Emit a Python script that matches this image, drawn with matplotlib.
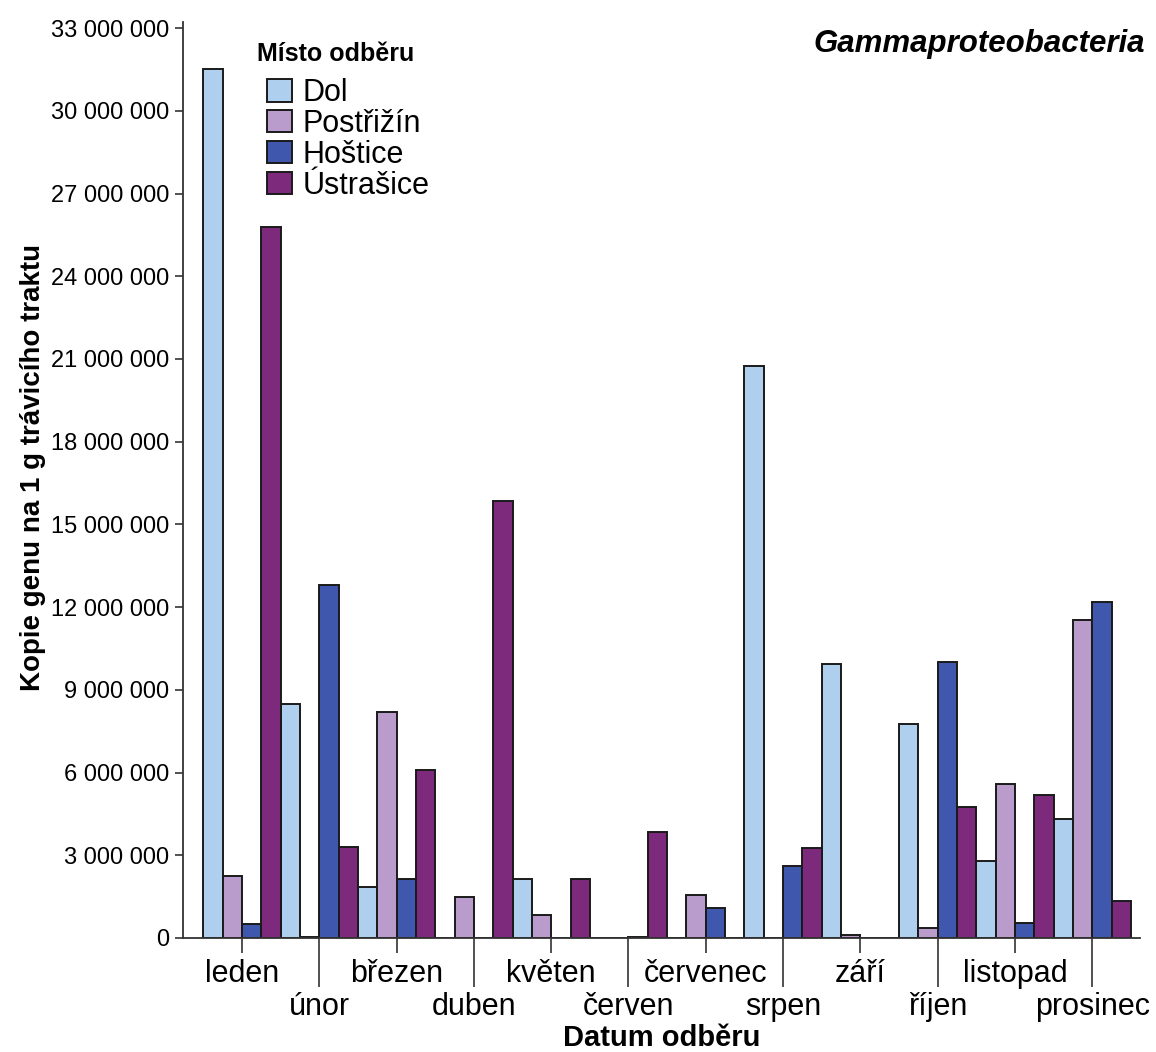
import matplotlib
matplotlib.use("Agg")
import matplotlib.pyplot as plt
import numpy as np
from matplotlib.ticker import FuncFormatter

plt.rcParams["font.family"] = ["Liberation Sans", "DejaVu Sans"]

months = ["leden", "únor", "březen", "duben", "květen", "červen",
          "červenec", "srpen", "září", "říjen", "listopad", "prosinec"]
sites = ["Dol", "Postřižín", "Hoštice", "Ústrašice"]
colors = ["#aed0ee", "#b99ccb", "#3f57ad", "#7e2a7c"]

# copies per 1 g of digestive tract, by month (jan..dec)
dol       = [31.5e6, 8.5e6, 1.85e6, 0, 2.15e6, 0, 0, 20.75e6, 9.95e6, 7.75e6, 2.8e6, 4.3e6]
postrizin = [2.25e6, 0.05e6, 8.2e6, 1.5e6, 0.85e6, 0, 1.55e6, 0, 0.12e6, 0.35e6, 5.6e6, 11.55e6]
hostice   = [0.5e6, 12.8e6, 2.15e6, 0, 0, 0.05e6, 1.1e6, 2.6e6, 0, 10.0e6, 0.55e6, 12.2e6]
ustrasice = [25.8e6, 3.3e6, 6.1e6, 15.85e6, 2.15e6, 3.85e6, 0, 3.25e6, 0, 4.75e6, 5.2e6, 1.35e6]
series = [dol, postrizin, hostice, ustrasice]

fig = plt.figure(figsize=(11.56, 10.52), dpi=100)
ax = fig.add_axes([183/1156, 114/1052, (1140-183)/1156, (938-22)/1052])

x = np.arange(len(months))
w = 0.25
for k, (vals, c, lab) in enumerate(zip(series, colors, sites)):
    ax.bar(x + (k - 1.5) * w, vals, width=w, color=c, edgecolor="#1a1a1a",
           linewidth=1.4, label=lab, zorder=2)

ax.set_xlim(-0.763, 11.617)
ax.set_ylim(0, 33.22e6)
ax.set_yticks(np.arange(0, 33e6 + 1, 3e6))
ax.yaxis.set_major_formatter(FuncFormatter(lambda v, p: f"{int(round(v)):,}".replace(",", " ")))
ax.tick_params(axis="y", labelsize=17, length=6, width=1.2, color="#333333", pad=4)

# alternating month labels: even months short tick, odd months long tick
ax.set_xticks(x[::2])
ax.set_xticklabels(months[::2])
ax.set_xticks(x[1::2], minor=True)
ax.set_xticklabels(months[1::2], minor=True)
ax.tick_params(axis="x", which="major", labelsize=22, length=11, width=1.2,
               color="#333333", pad=4)
ax.tick_params(axis="x", which="minor", labelsize=22, length=35, width=1.2,
               color="#333333", pad=4)

for s in ["top", "right"]:
    ax.spines[s].set_visible(False)
for s in ["left", "bottom"]:
    ax.spines[s].set_linewidth(1.3)
    ax.spines[s].set_color("#333333")

ax.set_ylabel("Kopie genu na 1 g trávicího traktu", fontsize=20, fontweight="bold")
ax.yaxis.set_label_coords((46 - 183) / 957, (938 - 467) / 916)
ax.set_xlabel("Datum odběru", fontsize=21, fontweight="bold", labelpad=1)

fig.text(257/1156, 1 - 54/1052, "Místo odběru", ha="left", va="center",
         fontsize=18, fontweight="bold")
ax.legend(loc="upper left", bbox_to_anchor=(267/1156, 1 - 78/1052),
          bbox_transform=fig.transFigure, frameon=False, fontsize=22,
          handlelength=0.82, handleheight=0.75, handletextpad=0.33,
          labelspacing=0.03, borderpad=0, borderaxespad=0)

fig.text(1145/1156, 1 - 44/1052, "Gammaproteobacteria", ha="right", va="center",
         fontsize=22.5, fontweight="bold", style="italic")

fig.savefig("out.png", dpi=100)
